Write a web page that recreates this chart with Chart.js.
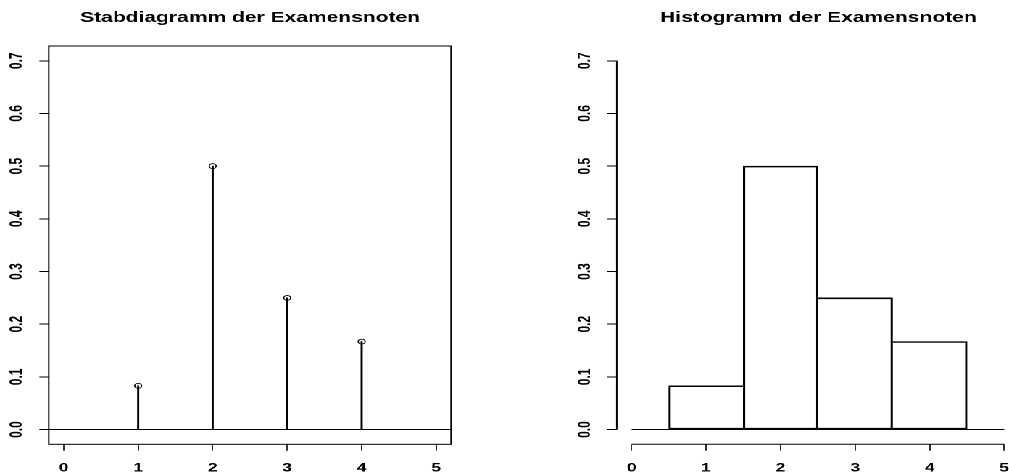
<!DOCTYPE html>
<html>
<head>
<meta charset="utf-8">
<title>Examensnoten</title>
<script src="https://cdn.jsdelivr.net/npm/chart.js@4.4.1/dist/chart.umd.min.js"></script>
<style>
    html, body { margin: 0; padding: 0; background: #fff; overflow: hidden; }
    /* the reference is a plot stretched sideways, so the whole drawing is stretched the same way */
    #stretch { position: relative; width: 781px; height: 473px; transform: scaleX(1.4497); transform-origin: 0 0; }
    .panel { position: absolute; top: 0; height: 473px; }
    #left-panel { left: 0; width: 345px; }
    #right-panel { left: 348px; width: 433px; }
</style>
</head>
<body>
<div id="stretch">
    <div class="panel" id="left-panel"><canvas id="chart-stab"></canvas></div>
    <div class="panel" id="right-panel"><canvas id="chart-hist"></canvas></div>
</div>
<script>
// Daten: relative Häufigkeiten der Examensnoten
const noten = [1, 2, 3, 4];
const relHaeufigkeit = [0.083, 0.5, 0.25, 0.167];
const histBreaks = [0.5, 1.5, 2.5, 3.5, 4.5];
const histDichte = [0.083, 0.5, 0.25, 0.167];
const xTicks = [0, 1, 2, 3, 4, 5];
const yTicks = [0, 0.1, 0.2, 0.3, 0.4, 0.5, 0.6, 0.7];
const xRange = [-0.2, 5.2];
const yRange = [-0.028, 0.728];

const FONT = "'Liberation Sans', Arial, Helvetica, sans-serif";
const tickFont = { family: FONT, size: 12, weight: "bold" };
const plotWidth = 277.5;

function xScale() {
    return {
        type: "linear",
        offset: false,
        min: xRange[0],
        max: xRange[1],
        afterBuildTicks: s => { s.ticks = xTicks.map(v => ({ value: v })); },
        afterFit: s => { s.height = 28.7; },
        grid: { offset: false, drawOnChartArea: false, drawTicks: true, tickLength: 6.5, color: "#000", lineWidth: 0.8 },
        border: { display: false },
        ticks: { padding: 10.4, color: "#000", font: tickFont, autoSkip: false, maxRotation: 0, callback: v => String(v) }
    };
}

function yScale(width) {
    return {
        type: "linear",
        position: "left",
        min: yRange[0],
        max: yRange[1],
        afterBuildTicks: s => { s.ticks = yTicks.map(v => ({ value: v })); },
        afterFit: s => { s.width = width; },
        grid: { drawOnChartArea: false, drawTicks: true, tickLength: 6.5, color: "#000", lineWidth: 1 },
        border: { display: false },
        ticks: {
            padding: 7, crossAlign: "center", minRotation: 90, maxRotation: 90,
            autoSkip: false, color: "#000", font: tickFont, callback: v => v.toFixed(1)
        }
    };
}

// leere Achse rechts, damit der Titel über der Plotfläche zentriert bleibt
function spacerScale(width) {
    return {
        type: "linear",
        position: "right",
        display: true,
        grid: { display: false },
        border: { display: false },
        ticks: { display: false },
        afterFit: s => { s.width = width; }
    };
}

function baseOptions(title) {
    return {
        responsive: true,
        maintainAspectRatio: false,
        animation: false,
        devicePixelRatio: 2,
        layout: { padding: 0 },
        plugins: {
            legend: { display: false },
            tooltip: { enabled: false },
            title: {
                display: true,
                text: title,
                color: "#000",
                font: { family: FONT, size: 14.5, weight: "bold" },
                padding: { top: 9.2, bottom: 19.4 }
            }
        }
    };
}

// Rahmen + Nulllinie für das Stabdiagramm
const stabRahmen = {
    id: "stabRahmen",
    afterDatasetsDraw(chart) {
        const { ctx, chartArea: a, scales: { y } } = chart;
        const y0 = y.getPixelForValue(0);
        ctx.save();
        ctx.strokeStyle = "#000";
        ctx.lineWidth = 1;
        ctx.strokeRect(a.left, a.top, a.right - a.left, a.bottom - a.top);
        ctx.beginPath();
        ctx.moveTo(a.left, y0);
        ctx.lineTo(a.right, y0);
        ctx.stroke();
        ctx.restore();
    }
};

// Achsenlinien (nur über den Tickbereich) + Grundlinie für das Histogramm
const histAchsen = {
    id: "histAchsen",
    afterDatasetsDraw(chart) {
        const { ctx, chartArea: a, scales: { x, y } } = chart;
        const xa = x.getPixelForValue(xTicks[0]);
        const xb = x.getPixelForValue(xTicks[xTicks.length - 1]);
        const ya = y.getPixelForValue(yTicks[0]);
        const yb = y.getPixelForValue(yTicks[yTicks.length - 1]);
        ctx.save();
        ctx.strokeStyle = "#000";
        ctx.lineWidth = 1;
        ctx.beginPath();
        ctx.moveTo(xa, a.bottom); ctx.lineTo(xb, a.bottom);
        ctx.moveTo(a.left, ya); ctx.lineTo(a.left, yb);
        ctx.moveTo(xa, ya); ctx.lineTo(xb, ya);
        ctx.stroke();
        ctx.restore();
    }
};

// gemeinsame Kante nur einmal zeichnen (vom jeweils höheren Balken)
function kanteAuslassen(ctx) {
    const i = ctx.dataIndex;
    const h = histDichte[i];
    if (i > 0 && histDichte[i - 1] >= h) return "left";
    if (i < histDichte.length - 1 && histDichte[i + 1] > h) return "right";
    return false;
}

const stabPunkte = noten.map((n, i) => ({ x: n, y: relHaeufigkeit[i] }));

const stabOptions = baseOptions("Stabdiagramm der Examensnoten");
stabOptions.scales = { x: xScale(), y: yScale(33.66), y2: spacerScale(345 - 33.66 - plotWidth) };

new Chart(document.getElementById("chart-stab"), {
    type: "bar",
    data: {
        datasets: [
            {
                type: "scatter",
                data: stabPunkte,
                pointStyle: "circle",
                pointRadius: 2.4,
                borderColor: "#000",
                backgroundColor: "rgba(255,255,255,0)",
                borderWidth: 0.9,
                order: 0
            },
            {
                type: "bar",
                data: stabPunkte,
                backgroundColor: "#000",
                borderWidth: 0,
                barThickness: 0.8,
                order: 1
            }
        ]
    },
    options: stabOptions,
    plugins: [stabRahmen]
});

const histMitten = histBreaks.slice(0, -1).map((b, i) => (b + histBreaks[i + 1]) / 2);
const histBalken = histMitten.map((m, i) => ({ x: m, y: histDichte[i] }));

const histOptions = baseOptions("Histogramm der Examensnoten");
histOptions.scales = { x: xScale(), y: yScale(77.46), y2: spacerScale(433 - 77.46 - plotWidth) };

new Chart(document.getElementById("chart-hist"), {
    type: "bar",
    data: {
        datasets: [{
            data: histBalken,
            backgroundColor: "rgba(255,255,255,0)",
            borderColor: "#000",
            borderWidth: 0.9,
            borderSkipped: kanteAuslassen,
            barPercentage: 1,
            categoryPercentage: 1
        }]
    },
    options: histOptions,
    plugins: [histAchsen]
});
</script>
</body>
</html>
